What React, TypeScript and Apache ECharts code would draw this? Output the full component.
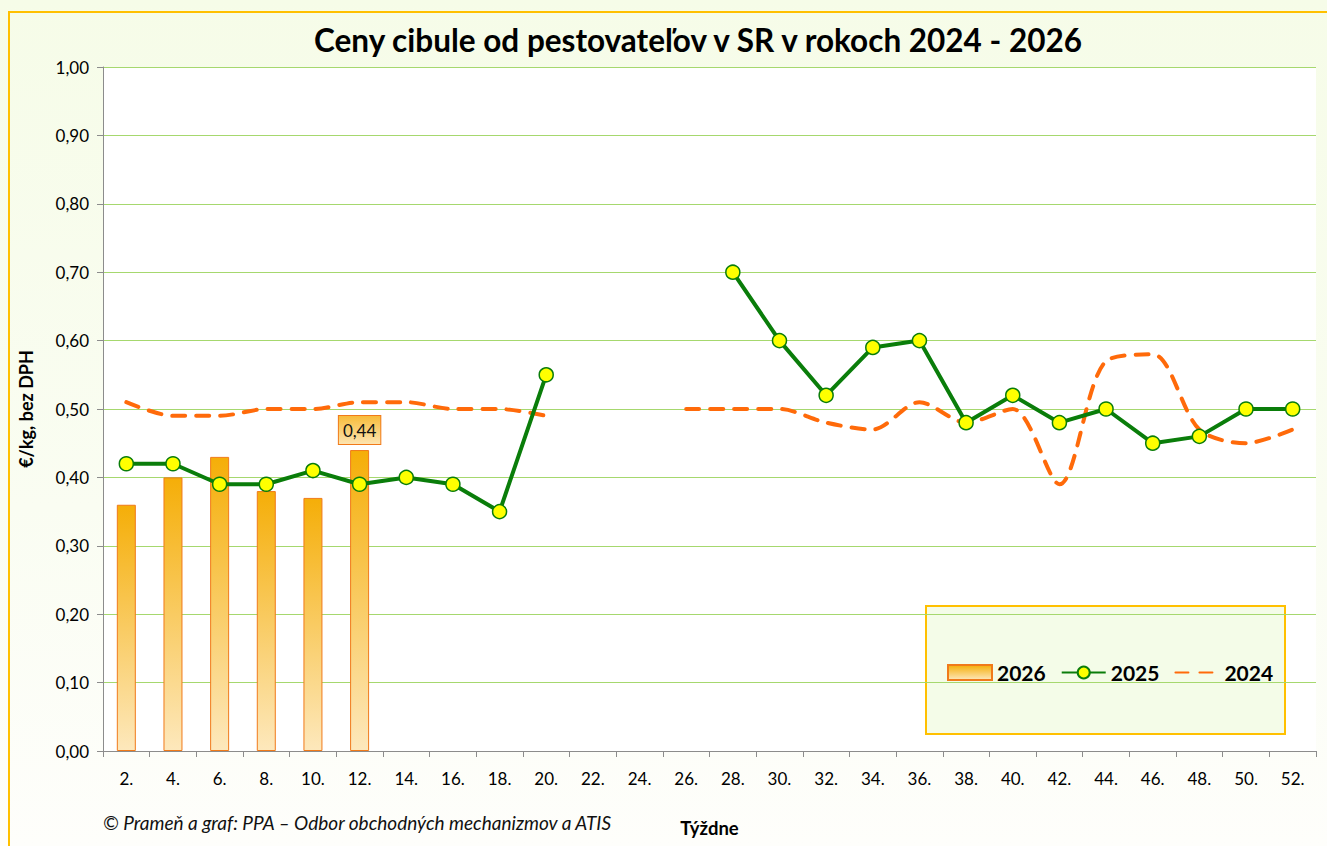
import React, { useEffect, useRef } from "react";
import * as echarts from "echarts";

const weeks = ["2.", "4.", "6.", "8.", "10.", "12.", "14.", "16.", "18.", "20.", "22.", "24.", "26.", "28.", "30.", "32.", "34.", "36.", "38.", "40.", "42.", "44.", "46.", "48.", "50.", "52."];

const values2026: (number | null)[] = [0.36, 0.40, 0.43, 0.38, 0.37, 0.44];

const values2025: (number | null)[] = [0.42, 0.42, 0.39, 0.39, 0.41, 0.39, 0.40, 0.39, 0.35, 0.55, null, null, null, 0.70, 0.60, 0.52, 0.59, 0.60, 0.48, 0.52, 0.48, 0.50, 0.45, 0.46, 0.50, 0.50];

const values2024: (number | null)[] = [0.51, 0.49, 0.49, 0.50, 0.50, 0.51, 0.51, 0.50, 0.50, 0.49, null, null, 0.50, 0.50, 0.50, 0.48, 0.47, 0.51, 0.48, 0.50, 0.39, 0.57, 0.58, 0.47, 0.45, 0.47];

const labelledBarIndex = 5;

const FONT = "Lato, 'Open Sans', sans-serif";

export default function App() {
  const ref = useRef<HTMLDivElement>(null);
  useEffect(() => {
    if (!ref.current) return;
    const chart = echarts.init(ref.current, undefined, { renderer: "svg" });
    const barGradient = new echarts.graphic.LinearGradient(0, 0, 0, 1, [
      { offset: 0, color: "#F5AE08" },
      { offset: 1, color: "#FDE8BC" },
    ]);
    const barData = values2026.map((v, i) =>
      i === labelledBarIndex
        ? {
            value: v,
            label: {
              show: true,
              position: "top",
              distance: 6,
              formatter: (p: any) => Number(p.value).toFixed(2).replace(".", ","),
              fontSize: 17,
              fontFamily: FONT,
              color: "#111",
              backgroundColor: new echarts.graphic.LinearGradient(0, 0, 0, 1, [
                { offset: 0, color: "#F8BC3A" },
                { offset: 1, color: "#FDE4B0" },
              ]),
              borderColor: "#F07A1A",
              borderWidth: 1,
              padding: [6, 4, 5, 4],
            },
          }
        : v
    );
    const option: any = {
      animation: false,
      backgroundColor: new echarts.graphic.LinearGradient(0, 0, 0, 1, [
        { offset: 0, color: "#F6FCE8" },
        { offset: 0.6, color: "#FAFDF2" },
        { offset: 1, color: "#FEFEFB" },
      ]),
      title: {
        text: "Ceny cibule od pestovateľov v SR v rokoch 2024 - 2026",
        left: 693,
        textAlign: "center",
        top: 19,
        textStyle: { fontFamily: FONT, fontWeight: "bold", fontSize: 31.5, color: "#000" },
      },
      grid: {
        left: 103,
        top: 67,
        width: 1213,
        height: 684,
        backgroundColor: "#fff",
        show: true,
        borderWidth: 0,
        containLabel: false,
        outerBoundsMode: "none",
      },
      legend: {
        left: 942,
        top: 657,
        itemWidth: 44,
        itemHeight: 15,
        itemGap: 15,
        textStyle: { fontFamily: FONT, fontWeight: "bold", fontSize: 21, color: "#000" },
        data: [
          { name: "2026", icon: "rect" },
          { name: "2025" },
          { name: "2024", itemStyle: { opacity: 0 } },
        ],
      },
      xAxis: {
        type: "category",
        data: weeks,
        boundaryGap: true,
        name: "Týždne",
        nameLocation: "middle",
        nameGap: 67,
        nameTextStyle: { fontFamily: FONT, fontWeight: "bold", fontSize: 18.5, color: "#000" },
        axisLine: { lineStyle: { color: "#8C8C8C", width: 1 } },
        axisTick: { show: true, length: 6, lineStyle: { color: "#8C8C8C" } },
        axisLabel: { fontFamily: FONT, fontSize: 17, color: "#000", margin: 19, interval: 0 },
      },
      yAxis: {
        type: "value",
        min: 0,
        max: 1,
        interval: 0.1,
        name: "€/kg, bez DPH",
        nameLocation: "middle",
        nameGap: 68,
        nameRotate: 90,
        nameTextStyle: { fontFamily: FONT, fontWeight: "bold", fontSize: 18, color: "#000" },
        axisLine: { show: true, lineStyle: { color: "#8C8C8C", width: 1 } },
        axisTick: { show: true, length: 6, lineStyle: { color: "#8C8C8C" } },
        axisLabel: {
          fontFamily: FONT,
          fontSize: 17,
          color: "#000",
          margin: 14,
          formatter: (v: number) => v.toFixed(2).replace(".", ","),
        },
        splitLine: { lineStyle: { color: "#A6D86E", width: 1 } },
      },
      graphic: [
        {
          type: "rect",
          silent: true,
          z: -1,
          shape: { x: 9, y: 12, width: 1340, height: 860 },
          style: { fill: "none", stroke: "#FFC000", lineWidth: 2 },
        },
        {
          type: "rect",
          z: 0,
          shape: { x: 926, y: 606, width: 359, height: 128 },
          style: { fill: "#F4FCE8", stroke: "#FFC000", lineWidth: 2 },
        },
        {
          type: "text",
          left: 103,
          top: 813,
          style: {
            text: "© Prameň a graf: PPA – Odbor obchodných mechanizmov a ATIS",
            fontFamily: FONT,
            fontStyle: "italic",
            fontSize: 19,
            fill: "#111",
          },
        },
      ],
      series: [
        {
          name: "2026",
          type: "bar",
          data: barData,
          barWidth: 19,
          itemStyle: { color: barGradient, borderColor: "#F07A1A", borderWidth: 1 },
          z: 2,
        },
        {
          name: "2025",
          type: "line",
          data: values2025,
          connectNulls: false,
          symbol: "circle",
          symbolSize: 14,
          lineStyle: { color: "#0A7D0A", width: 4 },
          itemStyle: { color: "#FFFF00", borderColor: "#0A7D0A", borderWidth: 1.5 },
          z: 4,
        },
        {
          name: "2024",
          type: "line",
          data: values2024,
          connectNulls: false,
          smooth: 0.3,
          symbol: "none",
          lineStyle: { color: "#FF6A0A", width: 4, type: [13, 11], cap: "round" },
          itemStyle: { color: "#FF6A0A" },
          z: 3,
        },
      ],
    };
    chart.setOption(option);
    return () => chart.dispose();
  }, []);
  return <div ref={ref} style={{ position: "fixed", left: 0, top: 0, width: 1327, height: 846 }} />;
}
